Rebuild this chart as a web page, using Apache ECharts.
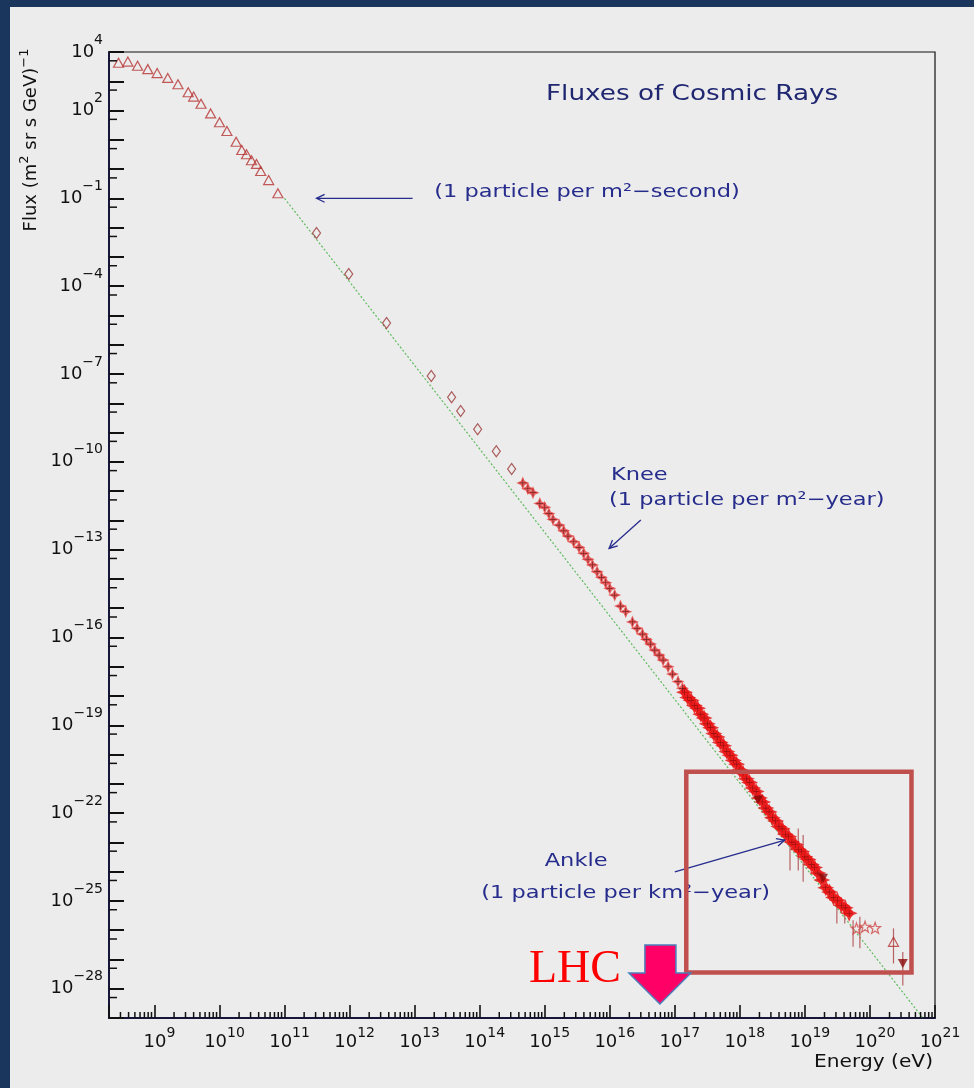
<!DOCTYPE html>
<html>
<head>
<meta charset="utf-8">
<title>Fluxes of Cosmic Rays</title>
<script src="https://cdn.jsdelivr.net/npm/echarts@6/dist/echarts.min.js"></script>
<style>
  html, body { margin: 0; padding: 0; background: #ececec; }
  #chart { width: 974px; height: 1088px; }
</style>
</head>
<body>
<div id="chart"></div>
<script>
// ---------------- data: energy in eV, flux in (m^2 sr s GeV)^-1 ----------------
// low-energy direct measurements (open triangles)
const lowEnergyE = [2.8e8, 3.9e8, 5.5e8, 7.9e8, 1.1e9, 1.6e9, 2.3e9, 3.3e9, 4.0e9, 5.2e9, 7.3e9,
  1.0e10, 1.3e10, 1.8e10, 2.2e10, 2.6e10, 3.1e10, 3.7e10, 4.3e10, 5.7e10, 7.9e10];
const lowEnergyF = [4.3e3, 4.7e3, 3.4e3, 2.6e3, 1.9e3, 1.3e3, 790, 420, 300, 170, 80,
  40, 20, 8.6, 4.5, 3.2, 2.0, 1.5, 0.86, 0.42, 0.15];

// direct measurements at higher energy (open diamonds)
const directE = [3.1e11, 9.7e11, 3.7e12, 1.8e13, 3.7e13, 5.1e13, 9.3e13, 1.8e14, 3.1e14];
const directF = [6.5e-3, 2.6e-4, 5.5e-6, 8.5e-8, 1.6e-8, 5.4e-9, 1.3e-9, 2.3e-10, 5.7e-11];

// air-shower measurements around the knee (crosses)
const kneeE = [4.6e14, 5.5e14, 6.6e14, 8.4e14, 1.0e15, 1.16e15, 1.34e15, 1.66e15, 1.96e15, 2.28e15,
  2.79e15, 3.37e15, 3.98e15, 4.63e15, 5.42e15, 6.38e15, 7.45e15, 8.67e15, 1.0e16, 1.19e16,
  1.46e16, 1.76e16, 2.23e16, 2.63e16, 3.18e16, 3.66e16, 4.23e16, 4.92e16, 5.74e16, 6.61e16,
  7.89e16, 9.2e16, 1.12e17, 1.31e17];
const kneeF = [1.9e-11, 1.2e-11, 8.8e-12, 3.8e-12, 2.8e-12, 1.7e-12, 1.08e-12, 6.9e-13, 4.4e-13, 2.9e-13,
  1.86e-13, 1.2e-13, 7.5e-14, 4.7e-14, 3.0e-14, 1.76e-14, 1.13e-14, 7.4e-15, 4.75e-15, 2.8e-15,
  1.18e-15, 7.6e-16, 3.4e-16, 2.05e-16, 1.3e-16, 8.6e-17, 5.96e-17, 3.7e-17, 2.5e-17, 1.69e-17,
  1.0e-17, 5.6e-18, 3.1e-18, 1.83e-18];

// ultra-high-energy measurements through the ankle (filled markers)
const ankleE = [1.41e17, 1.58e17, 1.78e17, 2.0e17, 2.24e17, 2.51e17, 2.82e17, 3.16e17, 3.55e17, 3.98e17,
  4.47e17, 5.01e17, 5.62e17, 6.31e17, 7.08e17, 7.94e17, 8.91e17, 1.0e18, 1.12e18, 1.26e18,
  1.41e18, 1.58e18, 1.78e18, 2.0e18, 2.24e18, 2.51e18, 2.82e18, 3.16e18, 3.55e18, 3.98e18,
  4.47e18, 5.01e18, 5.62e18, 6.31e18, 7.08e18, 7.94e18, 8.91e18, 1.0e19, 1.12e19, 1.26e19,
  1.41e19, 1.58e19, 1.82e19, 2.09e19, 2.4e19, 2.75e19, 3.16e19, 3.63e19, 4.17e19, 4.79e19];
const ankleF = [1.35e-18, 8.9e-19, 7.1e-19, 4.7e-19, 3.8e-19, 2.4e-19, 1.78e-19, 1.12e-19, 8.3e-20, 5.2e-20,
  4.0e-20, 2.6e-20, 2.0e-20, 1.26e-20, 9.5e-21, 6.3e-21, 4.7e-21, 3.0e-21, 2.3e-21, 1.48e-21,
  1.12e-21, 7.2e-22, 5.5e-22, 3.3e-22, 2.4e-22, 1.48e-22, 1.1e-22, 6.9e-23, 5.4e-23, 3.5e-23,
  2.9e-23, 1.9e-23, 1.58e-23, 1.02e-23, 8.5e-24, 5.8e-24, 4.9e-24, 3.2e-24, 2.6e-24, 1.74e-24,
  1.38e-24, 8.9e-25, 5.2e-25, 2.8e-25, 2.0e-25, 1.32e-25, 1.05e-25, 7.1e-26, 5.8e-26, 3.8e-26];

// highest-energy points
const tailStarE = [6.2e19, 8.4e19, 1.2e20];
const tailStarF = [1.15e-26, 1.32e-26, 1.2e-26];
const tailTriE = [2.3e20];
const tailTriF = [4.0e-27];
const limitE = [1.9e18, 1.9e19, 3.2e20];
const limitF = [2.8e-22, 5.9e-25, 7.3e-28];

// vertical error bars
const errE = [5.9e18, 7.9e18, 9.4e18, 3.1e19, 4.1e19, 5.5e19, 7.0e19, 2.3e20, 3.2e20];
const errLo = [1.1e-24, 1.1e-24, 4.5e-25, 1.7e-26, 1.7e-26, 2.7e-27, 2.4e-27, 7.3e-28, 1.3e-28];
const errHi = [1.55e-23, 3.0e-23, 1.8e-23, 1.0e-25, 8.2e-26, 2.2e-26, 2.9e-26, 1.15e-26, 1.8e-27];

// reference power law (dotted green)
const powerLawE = [1e11, 6.5e20];
const powerLawF = [1e-1, 1e-29];

// axis ranges and labelled y decades
const xRange = [2e8, 1e21];
const yRange = [1e-29, 1e4];
const yLabelExps = [4, 2, -1, -4, -7, -10, -13, -16, -19, -22, -25, -28];

// annotation anchors (data coordinates)
const lhcEnergy = 5.9e16;

// ---------------- helpers ----------------
const L = Math.log10;
const toPts = (es, fs) => es.map((e, i) => [L(e), L(fs[i])]);
const FONT = '"DejaVu Sans", "Liberation Sans", sans-serif';
const NAVY = '#262c8c';
const xMin = L(xRange[0]), xMax = Math.round(L(xRange[1]));
const yMin = Math.round(L(yRange[0])), yMax = Math.round(L(yRange[1]));
const sup = n => (n < 0 ? '\u2212' + (-n) : String(n));

// minor tick positions: 2..9 x 10^n on energy, 0.5 x 10^n on flux
const xMinor = [];
for (let n = Math.floor(xMin); n < xMax; n++) {
  for (let k = 2; k <= 9; k++) {
    const v = n + L(k);
    if (v > xMin + 1e-9 && v < xMax) xMinor.push([v, yMin]);
  }
}
const yMinor = [];
for (let n = yMin + 1; n <= yMax; n++) yMinor.push([xMin, n + L(0.5)]);

const tickRender = (dx, dy) => (params, api) => {
  const p = api.coord([api.value(0), api.value(1)]);
  return { type: 'line', shape: { x1: p[0], y1: p[1], x2: p[0] + dx, y2: p[1] + dy },
    style: { stroke: '#111', lineWidth: 1.5 } };
};

const star4 = 'path://M5 0 L6.5 3.5 L10 5 L6.5 6.5 L5 10 L3.5 6.5 L0 5 L3.5 3.5 Z';
const plus = 'path://M4.5 0 H5.5 V4.5 H10 V5.5 H5.5 V10 H4.5 V5.5 H0 V4.5 H4.5 Z';
const star5 = 'path://M5 0 L6.2 3.5 L10 3.6 L7 5.9 L8.1 9.5 L5 7.4 L1.9 9.5 L3 5.9 L0 3.6 L3.8 3.5 Z';

const scatter = (data, symbol, size, itemStyle, extra) => Object.assign({
  type: 'scatter', data, symbol, symbolSize: size, itemStyle,
  silent: true, emphasis: { disabled: true }, z: 4
}, extra || {});

const openStyle = c => ({ color: 'rgba(0,0,0,0)', borderColor: c, borderWidth: 1.2 });

// "10" with a raised exponent; the base glyphs sit in the middle of a tall line box
const labelRich = (lh) => ({
  b: { fontSize: 18, fontFamily: FONT, color: '#111', lineHeight: lh },
  s: { fontSize: 14, fontFamily: FONT, color: '#111', lineHeight: 14, verticalAlign: 'top' }
});

const chart = echarts.init(document.getElementById('chart'), null, { renderer: 'canvas', width: 974, height: 1088 });

chart.setOption({
  animation: false,
  backgroundColor: '#ececec',
  grid: {
    left: 109, right: 39, top: 52, bottom: 70,
    show: true, borderColor: '#111', borderWidth: 1.2,
    containLabel: false, outerBoundsMode: 'none'
  },
  xAxis: {
    type: 'value', min: xMin, max: xMax, splitNumber: 13, minInterval: 1, maxInterval: 1,
    axisLine: { show: true, onZero: false, lineStyle: { color: '#16163a', width: 2 } },
    axisTick: { show: true, inside: true, length: 13, lineStyle: { color: '#111', width: 1.6 } },
    splitLine: { show: false },
    axisLabel: {
      margin: 8, padding: [0, 0, 0, 10],
      formatter: v => { const n = Math.round(v); return Math.abs(v - n) < 1e-6 ? '{b|10}{s|' + sup(n) + '}' : ''; },
      rich: labelRich(32)
    }
  },
  yAxis: {
    type: 'value', min: yMin, max: yMax, interval: 1,
    axisLine: { show: true, onZero: false, lineStyle: { color: '#16163a', width: 2 } },
    axisTick: { show: true, inside: true, length: 15, lineStyle: { color: '#111', width: 2 } },
    splitLine: { show: false },
    axisLabel: {
      margin: 6,
      formatter: v => { const n = Math.round(v); return (Math.abs(v - n) < 1e-6 && yLabelExps.includes(n)) ? '{b|10}{s|' + sup(n) + '}' : ''; },
      rich: labelRich(38)
    }
  },
  series: [
    { type: 'line', data: toPts(powerLawE, powerLawF), symbol: 'none', silent: true, z: 1,
      lineStyle: { color: '#5dbb5d', width: 1.2, type: [2, 2] }, emphasis: { disabled: true } },
    { type: 'custom', silent: true, z: 3, encode: { x: 0, y: [1, 2] },
      data: errE.map((e, i) => [L(e), L(errLo[i]), L(errHi[i])]),
      renderItem: (params, api) => {
        const a = api.coord([api.value(0), api.value(1)]);
        const b = api.coord([api.value(0), api.value(2)]);
        return { type: 'line', shape: { x1: a[0], y1: a[1], x2: b[0], y2: b[1] },
          style: { stroke: '#b86262', lineWidth: 1.2 } };
      } },
    scatter(toPts(lowEnergyE, lowEnergyF), 'triangle', [10, 9], openStyle('#b73232')),
    scatter(toPts(directE, directF), 'diamond', [8, 11], openStyle('#9a3636')),
    scatter(toPts(kneeE, kneeF), star4, 13, { color: '#e83a3a' }),
    scatter(toPts(kneeE, kneeF), plus, 7, { color: '#5a1010' }, { z: 5 }),
    scatter(toPts(ankleE, ankleF), star4, 17, { color: '#e60e0e' }),
    scatter(toPts(ankleE, ankleF), 'circle', 8, { color: '#ee1a1a' }),
    scatter(toPts(ankleE, ankleF), plus, 6, { color: '#7a0808' }, { z: 5 }),
    scatter(toPts(tailStarE, tailStarF), star5, 11, openStyle('#d04848')),
    scatter(toPts(tailTriE, tailTriF), 'triangle', [10, 9], openStyle('#b73232')),
    scatter(toPts(limitE, limitF), 'triangle', [10, 9], { color: '#8b0a0a' }, { symbolRotate: 180, z: 6 }),
    { type: 'custom', silent: true, z: 6, data: xMinor, renderItem: tickRender(0, -6) },
    { type: 'custom', silent: true, z: 6, data: yMinor, renderItem: tickRender(8, 0) }
  ]
});

// ---------------- annotations, placed through the grid's coordinate system ----------------
const px = (e, f) => chart.convertToPixel({ gridIndex: 0 }, [L(e), L(f)]);

const arrowHead = (tip, from, len, ang) => {
  const dx = from[0] - tip[0], dy = from[1] - tip[1];
  const d = Math.hypot(dx, dy), ux = dx / d, uy = dy / d;
  const r = a => [tip[0] + len * (ux * Math.cos(a) - uy * Math.sin(a)),
                  tip[1] + len * (ux * Math.sin(a) + uy * Math.cos(a))];
  return [r(ang), tip, r(-ang)];
};
const arrow = (from, to) => [
  { type: 'line', shape: { x1: from[0], y1: from[1], x2: to[0], y2: to[1] },
    style: { stroke: NAVY, lineWidth: 1.3 }, z: 50 },
  { type: 'polyline', shape: { points: arrowHead(to, from, 9, 0.45) },
    style: { stroke: NAVY, lineWidth: 1.3, fill: null }, z: 50 }
];
const note = (p, text) => ({
  type: 'text', x: p[0], y: p[1], scaleX: 1.25, z: 50,
  style: { text, fill: NAVY, fontSize: 18, fontFamily: FONT, align: 'left', verticalAlign: 'middle' }
});

const boxA = px(1.5e17, 2.56e-21), boxB = px(4.35e20, 3.56e-28);
const lhcBase = px(lhcEnergy, yRange[0]);
const tx = lhcBase[0], ty = lhcBase[1] - 14;

const elements = [
  // slide frame strips
  { type: 'rect', shape: { x: 0, y: 0, width: 974, height: 7 }, style: { fill: '#1b365d' }, z: 100 },
  { type: 'rect', shape: { x: 0, y: 0, width: 10, height: 1088 }, style: { fill: '#1b365d' }, z: 100 },
  // chart title
  { type: 'text', x: 546, y: 95, scaleX: 1.25, z: 50,
    style: { text: 'Fluxes of Cosmic Rays', fill: '#1f2770', fontSize: 21, fontFamily: FONT, align: 'left', verticalAlign: 'middle' } },
  // axis titles
  { type: 'text', x: 31.5, y: 140, rotation: Math.PI / 2, z: 50,
    style: { text: '{a|Flux (m}{s|2}{a| sr s GeV)}{s|\u22121}', fill: '#111', align: 'center', verticalAlign: 'middle',
      rich: { a: { fontSize: 18, fontFamily: FONT, lineHeight: 26 },
              s: { fontSize: 13, fontFamily: FONT, lineHeight: 13, verticalAlign: 'top' } } } },
  { type: 'text', x: 933, y: 1062, scaleX: 1.12, z: 50,
    style: { text: 'Energy (eV)', fill: '#111', fontSize: 18, fontFamily: FONT, align: 'right', verticalAlign: 'middle' } },
  // 1 particle per m^2 second
  note(px(2.0e13, 0.165), '(1 particle per m\u00b2\u2212second)'),
  ...arrow(px(9.3e12, 0.1), px(3.1e11, 0.1)),
  // knee
  note(px(1.04e16, 3.5e-11), 'Knee'),
  note(px(9.7e15, 4.9e-12), '(1 particle per m\u00b2\u2212year)'),
  ...arrow(px(3.0e16, 1.03e-12), px(9.75e15, 1.1e-13)),
  // ankle
  note(px(1.0e15, 2.17e-24), 'Ankle'),
  note(px(1.06e14, 1.8e-25), '(1 particle per km\u00b2\u2212year)'),
  ...arrow(px(1.0e17, 9.9e-25), px(4.9e18, 1.2e-23)),
  // highlighted ultra-high-energy region
  { type: 'rect', z: 90, shape: { x: boxA[0], y: boxA[1], width: boxB[0] - boxA[0], height: boxB[1] - boxA[1] },
    style: { fill: null, stroke: '#c0504d', lineWidth: 4.5 } },
  // LHC equivalent energy marker
  { type: 'polygon', z: 90,
    shape: { points: [[tx - 15, ty - 59], [tx + 16, ty - 59], [tx + 16, ty - 31], [tx + 31, ty - 31],
                      [tx, ty], [tx - 31, ty - 31], [tx - 15, ty - 31]] },
    style: { fill: '#ff0066', stroke: '#4a7ebb', lineWidth: 1.5 } },
  { type: 'text', x: tx - 131, y: ty - 34, z: 90,
    style: { text: 'LHC', fill: '#ff0000', fontSize: 46, fontFamily: '"Liberation Serif", "DejaVu Serif", serif',
      align: 'left', verticalAlign: 'middle' } }
];

chart.setOption({ graphic: elements });
</script>
</body>
</html>
